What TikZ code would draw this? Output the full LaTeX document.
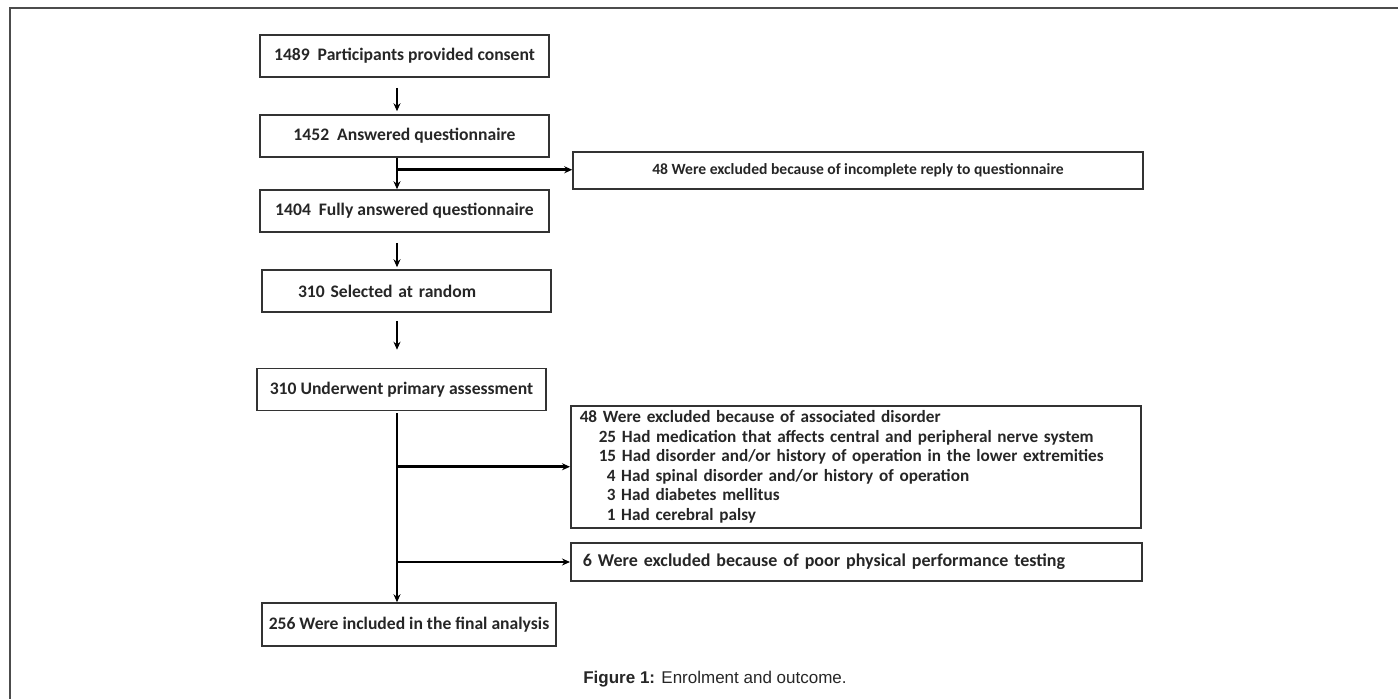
\documentclass[tikz,border=0pt]{standalone}
\usepackage{fontspec}
\setmainfont{Carlito}
\newfontfamily\capfont{Liberation Sans}
\usepackage{tikz}
\usetikzlibrary{arrows.meta, positioning, calc}

\begin{document}
\begin{tikzpicture}[
  x=1pt, y=-1pt,
  every node/.style={font=\fontsize{17.6}{21}\selectfont\bfseries, text=black!85},
  box/.style={rectangle, draw=black!80, line width=1.5pt, minimum width=289pt, minimum height=42pt, inner sep=0pt},
  exbox/.style={rectangle, draw=black!80, line width=1.5pt, minimum width=570pt, inner sep=0pt},
  arr/.style={-{Stealth[length=8pt, width=7pt]}, line width=2.8pt},
]
  \useasboundingbox (0,0) rectangle (1398,699);
  % cadre
  \draw[gray!60!black, line width=2pt] (10,699) -- (10,8) -- (1398,8);

  % Boites principales
  \node[box] (B1) at (404.5,56) {1489\ \ Participants provided consent};
  \node[box] (B2) at (404.5,136) {1452\ \ Answered questionnaire};
  \node[box] (B3) at (404.5,211) {1404\ \ Fully answered questionnaire};
  \node[box, align=left, text width=217pt, inner xsep=36pt] (B4) at (406.5,291) {310 Selected at random};
  \node[box] (B5) at (401.5,389.5) {310 Underwent primary assessment};
  \node[box, minimum width=294pt, minimum height=43pt] (B6) at (409,624.5) {256 Were included in the final analysis};

  % Exclusions
  \node[exbox, minimum height=37pt, font=\fontsize{15.6}{19}\selectfont\bfseries] (E1) at (858,170.5) {48 Were excluded because of incomplete reply to questionnaire};
  \node[exbox, minimum height=122pt, align=left, anchor=north west, inner xsep=9pt, inner ysep=4pt, text width=552pt,
        font=\fontsize{17.2}{19.6}\selectfont\bfseries] (E2) at (570,405) {%
    48 Were excluded because of associated disorder\\
    \hspace*{19pt}25 Had medication that affects central and peripheral nerve system\\
    \hspace*{19pt}15 Had disorder and/or history of operation in the lower extremities\\
    \hspace*{27pt}4 Had spinal disorder and/or history of operation\\
    \hspace*{27pt}3 Had diabetes mellitus\\
    \hspace*{27pt}1 Had cerebral palsy};
  \node[exbox, minimum width=571pt, minimum height=38pt, align=left, text width=547pt, inner xsep=12pt, anchor=west,
        font=\fontsize{18}{20}\selectfont\bfseries] (E3) at (570,562) {6 Were excluded because of poor physical performance testing};

  % Fleches
  \coordinate (axis) at (397,0);
  \draw[arr] ($(B1.south -| axis)+(0,10)$) -- ($(B2.north -| axis)+(0,-3)$);
  \draw[arr] (B2.south -| axis) -- (B3.north -| axis);
  \draw[arr] (B2.south -| axis) ++(0,12) coordinate (J1) -- (J1 -| E1.west);
  \draw[arr] ($(B3.south -| axis)+(0,10)$) -- ($(B4.north -| axis)+(0,-2)$);
  \draw[arr] ($(B4.south -| axis)+(0,8)$) -- ($(B5.north -| axis)+(0,-18)$);
  \draw[arr] ($(B5.south -| axis)+(0,2)$) -- (B6.north -| axis);
  \draw[arr] (E2.west -| axis) -- (E2.west);
  \draw[arr] (E3.west -| axis) -- (E3.west);

  % Legende
  \node[font=\capfont\fontsize{17}{20}\selectfont] (cap) at (715,679) {\textbf{Figure 1:} Enrolment and outcome.};
\end{tikzpicture}
\end{document}
